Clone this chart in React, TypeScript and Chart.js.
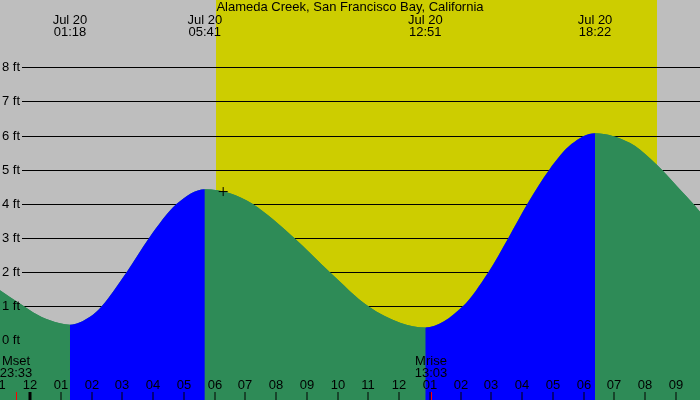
import React, { useEffect, useRef } from "react";
import { Chart, registerables } from "chart.js";

Chart.register(...registerables);

// ---- data ----
const chartTitle = "Alameda Creek, San Francisco Bay, California";

// hours since midnight Jul 20 and tide level (ft)
const tideTimes = [-0.975, -0.33, 0.11, 0.65, 1.3, 1.95, 2.33, 3.14, 3.87, 4.77, 5.683, 6.5, 7.23, 8.59, 9.75, 11.0, 12.03, 12.85, 14.07, 14.9, 15.55, 16.17, 16.88, 17.6, 18.367, 19.51, 20.16, 20.54, 21.13, 21.56, 21.78];
const tideLevels = [1.47, 1.08, 0.82, 0.59, 0.46, 0.69, 1.0, 2.0, 3.0, 4.0, 4.43, 4.31, 4.0, 3.0, 2.0, 1.0, 0.52, 0.38, 1.0, 2.0, 3.0, 4.0, 5.0, 5.75, 6.07, 5.78, 5.33, 5.0, 4.42, 4.0, 3.77];

const eventTimes = [1.3, 5.683, 12.85, 18.367];
const eventDates = ["Jul 20", "Jul 20", "Jul 20", "Jul 20"];
const eventClock = ["01:18", "05:41", "12:51", "18:22"];

const sunriseTime = 6.05;
const sunsetTime = 20.38;

const moonTimes = [-0.45, 13.05];
const moonNames = ["Mset", "Mrise"];
const moonClock = ["23:33", "13:03"];

const markTime = 6.28;
const markLevel = 4.36;

const gridLevels = [0, 1, 2, 3, 4, 5, 6, 7, 8];
const gridLabels = ["0 ft", "1 ft", "2 ft", "3 ft", "4 ft", "5 ft", "6 ft", "7 ft", "8 ft"];

const hourValues = [-1, 0, 1, 2, 3, 4, 5, 6, 7, 8, 9, 10, 11, 12, 13, 14, 15, 16, 17, 18, 19, 20, 21];
const hourLabels = ["11", "12", "01", "02", "03", "04", "05", "06", "07", "08", "09", "10", "11", "12", "01", "02", "03", "04", "05", "06", "07", "08", "09"];
const dayBoundary = 0;

const xMin = -0.975;
const xMax = 21.78;
const yMin = -1.745;
const yMax = 9.97;

const GRAY = "#bebebe";
const YELLOW = "#cdcd00";
const GREEN = "#2e8b57";
const BLUE = "#0000ff";
const FONT = "13px 'Liberation Sans', Arial, sans-serif";

const decorPlugin = {
  id: "tideDecor",
  beforeDatasetsDraw(chart: any) {
    const { ctx, chartArea: a, scales } = chart;
    const x = scales.x, y = scales.y;
    ctx.save();
    ctx.fillStyle = GRAY;
    ctx.fillRect(a.left, a.top, a.right - a.left, a.bottom - a.top);
    const sx = Math.round(x.getPixelForValue(sunriseTime));
    const ex = Math.round(x.getPixelForValue(sunsetTime));
    ctx.fillStyle = YELLOW;
    ctx.fillRect(sx, a.top, ex - sx, a.bottom - a.top);
    ctx.strokeStyle = "#000";
    ctx.lineWidth = 1;
    for (const lv of gridLevels) {
      const py = Math.round(y.getPixelForValue(lv)) + 0.5;
      ctx.beginPath();
      ctx.moveTo(a.left + 22, py);
      ctx.lineTo(a.right, py);
      ctx.stroke();
    }
    ctx.restore();
  },
  afterDatasetsDraw(chart: any) {
    const { ctx, chartArea: a, scales } = chart;
    const x = scales.x, y = scales.y;
    ctx.save();
    ctx.font = FONT;
    ctx.fillStyle = "#000";
    ctx.textBaseline = "middle";

    // title
    ctx.textAlign = "center";
    ctx.fillText(chartTitle, (a.left + a.right) / 2, 7);

    // tide event labels
    eventTimes.forEach((t, i) => {
      const px = x.getPixelForValue(t);
      ctx.fillText(eventDates[i], px, 20);
      ctx.fillText(eventClock[i], px, 32);
    });

    // level labels
    ctx.textAlign = "left";
    gridLevels.forEach((lv, i) => {
      const py = Math.round(y.getPixelForValue(lv)) + 0.5;
      ctx.fillText(gridLabels[i], a.left + 2, py);
    });

    // hour labels and ticks
    ctx.textAlign = "center";
    hourValues.forEach((h, i) => {
      const px = Math.round(x.getPixelForValue(h));
      ctx.fillStyle = "#000";
      ctx.fillText(hourLabels[i], px, 385);
      if (h === dayBoundary) {
        ctx.fillRect(px - 1.5, 392, 3, a.bottom - 392);
      } else {
        ctx.fillRect(px - 0.5, 392, 1, a.bottom - 392);
      }
    });

    // moon events
    moonTimes.forEach((t, i) => {
      const px = Math.round(x.getPixelForValue(t));
      ctx.fillStyle = "#000";
      ctx.fillText(moonNames[i], px, 361);
      ctx.fillText(moonClock[i], px, 373);
      ctx.fillStyle = "#ff0000";
      ctx.fillRect(px, 392, 1, a.bottom - 392);
    });
    ctx.restore();
  },
};

export default function App() {
  const ref = useRef<HTMLCanvasElement | null>(null);

  useEffect(() => {
    document.body.style.margin = "0";
    const canvas = ref.current;
    if (!canvas) return;
    const tidePoints = tideTimes.map((t, i) => ({ x: t, y: tideLevels[i] }));
    const chart = new Chart(canvas, {
      type: "line",
      data: {
        datasets: [
          {
            type: "scatter",
            data: [{ x: markTime, y: markLevel }],
            pointStyle: "cross",
            pointRadius: 4.5,
            pointBorderColor: "#000",
            pointBorderWidth: 1,
            borderColor: "#000",
            showLine: false,
          } as any,
          {
            data: tidePoints,
            cubicInterpolationMode: "monotone",
            fill: "start",
            pointRadius: 0,
            borderWidth: 1,
            borderColor: "rgba(0,0,0,0)",
            backgroundColor: GREEN,
            segment: {
              backgroundColor: (c: any) => (c.p1.parsed.y > c.p0.parsed.y ? BLUE : GREEN),
            },
          } as any,
          {
            data: tidePoints,
            cubicInterpolationMode: "monotone",
            fill: "start",
            pointRadius: 0,
            borderWidth: 1,
            borderColor: "rgba(0,0,0,0)",
            backgroundColor: GREEN,
          } as any,
        ],
      },
      options: {
        responsive: false,
        animation: false,
        devicePixelRatio: 1,
        layout: { padding: 0, autoPadding: false } as any,
        events: [],
        plugins: {
          legend: { display: false },
          tooltip: { enabled: false },
          title: { display: false },
        },
        scales: {
          x: { type: "linear", min: xMin, max: xMax, display: false },
          y: { type: "linear", min: yMin, max: yMax, display: false },
        },
      },
      plugins: [decorPlugin],
    });
    return () => chart.destroy();
  }, []);

  return <canvas ref={ref} width={700} height={400} style={{ display: "block" }} />;
}
